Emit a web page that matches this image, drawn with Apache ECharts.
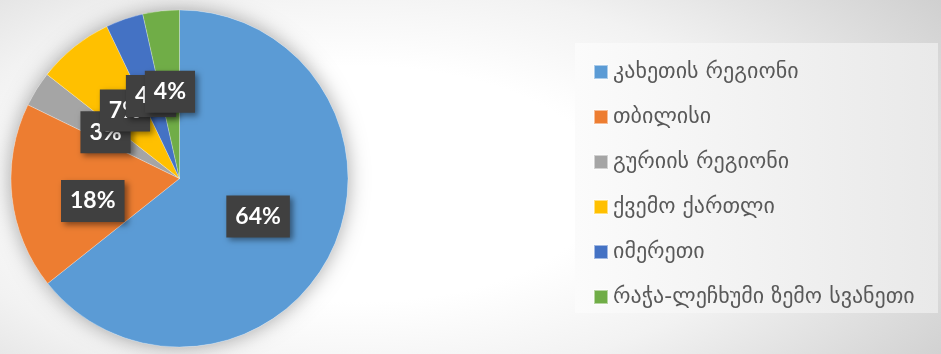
<!DOCTYPE html>
<html><head><meta charset="utf-8">
<script src="https://cdn.jsdelivr.net/npm/echarts@6/dist/echarts.min.js"></script>
<style>
html,body{margin:0;padding:0;}
body{width:941px;height:354px;background:radial-gradient(ellipse 75% 95% at 38% 52%, #ffffff 35%, #f2f2f2 60%, #cfcfcf 100%);}
#c{width:941px;height:354px;}
</style></head><body>
<div id="c"></div>
<script>
const categories = ['კახეთის რეგიონი','თბილისი','გურიის რეგიონი','ქვემო ქართლი','იმერეთი','რაჭა-ლეჩხუმი ზემო სვანეთი'];
const values = [64.3, 17.9, 3.4, 7.3, 3.6, 3.5];
const colors = ['#5B9BD5','#ED7D31','#A5A5A5','#FFC000','#4472C4','#70AD47'];

const chart = echarts.init(document.getElementById('c'), null, {renderer:'canvas'});
const labelStyle = {
  show:true, position:'inside',
  formatter: p => Math.round(p.percent) + '%',
  color:'#ffffff', fontFamily:'Lato', fontWeight:'bold', fontSize:23, lineHeight:24,
  backgroundColor:'#404040', padding:[9,9,9,9],
  shadowColor:'rgba(0,0,0,0.45)', shadowBlur:6, shadowOffsetX:3, shadowOffsetY:3
};
chart.setOption({
  animation:false,
  color: colors,
  graphic:[{
    type:'rect', z:-1, silent:true,
    shape:{x:575, y:43, width:363, height:270},
    style:{fill:new echarts.graphic.LinearGradient(0,0,1,0,[{offset:0,color:'#fbfbfb'},{offset:1,color:'#e9e9e9'}])}
  }],
  legend:{
    orient:'vertical', left:588, top:56,
    icon:'rect', itemWidth:14, itemHeight:14, itemGap:23,
    textStyle:{fontFamily:'DejaVu Sans', fontSize:22, color:'#595959', lineHeight:22},
    data: categories
  },
  series:[
    {
      type:'pie', silent:true, center:[179.5,178.5], radius:168.5, z:1,
      label:{show:false}, labelLine:{show:false},
      itemStyle:{color:'#ffffff', shadowColor:'rgba(0,0,0,0.35)', shadowBlur:20},
      data:[{value:1, name:'_bg'}]
    },
    {
      type:'pie', center:[179.5,178.5], radius:168.5, startAngle:90, clockwise:true, z:2,
      avoidLabelOverlap:false,
      itemStyle:{borderColor:'rgba(255,255,255,0.5)', borderWidth:0.5},
      label: labelStyle,
      labelLine:{show:false},
      labelLayout: p => ({hideOverlap:false, dy: p.dataIndex === 1 ? 13 : 0}),
      data: categories.map((c,i)=>({name:c, value:values[i], itemStyle:{color:colors[i]}}))
    }
  ]
});
</script>
</body></html>
